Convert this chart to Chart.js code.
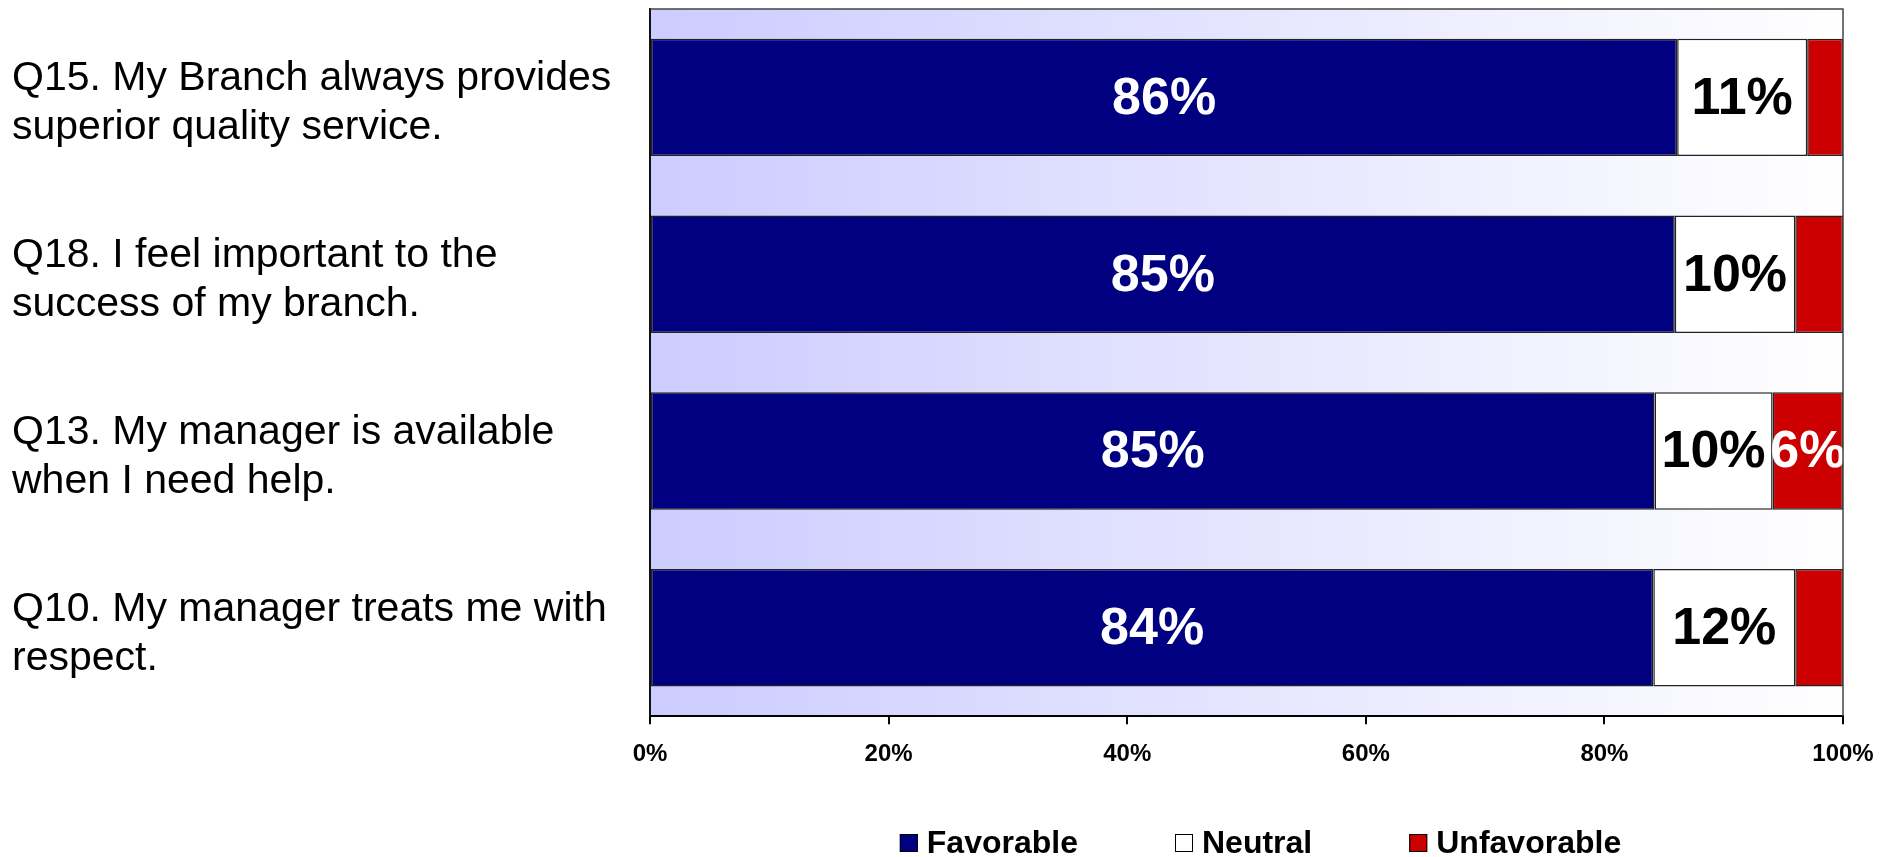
<!DOCTYPE html>
<html>
<head>
<meta charset="utf-8">
<script src="https://cdn.jsdelivr.net/npm/chart.js@4.4.0/dist/chart.umd.min.js"></script>
<style>
  body { margin: 0; background: #fff; }
  #wrap { width: 1893px; height: 857px; }
</style>
</head>
<body>
<div id="wrap"><canvas id="surveyChart" width="1893" height="857"></canvas></div>
<script>
// ==========================================
// DATA
// ==========================================
const questions = [
    ['Q15. My Branch always provides', 'superior quality service.'],
    ['Q18. I feel important to the', 'success of my branch.'],
    ['Q13. My manager is available', 'when I need help.'],
    ['Q10. My manager treats me with', 'respect.']
];
const seriesNames = ['Favorable', 'Neutral', 'Unfavorable'];

// bar lengths (percent of respondents)
const favorable   = [86.1, 85.9, 84.2, 84.1];
const neutral     = [10.9, 10.1,  9.9, 11.9];
const unfavorable = [ 3.0,  4.0,  5.9,  4.0];

// the percentages printed on the bars (null = no label shown)
const favorableShown   = [86, 85, 85, 84];
const neutralShown     = [11, 10, 10, 12];
const unfavorableShown = [null, null, 6, null];

const xTicks = [0, 20, 40, 60, 80, 100];

// ==========================================
// STYLE
// ==========================================
const FONT = '"Liberation Sans", Arial, Helvetica, sans-serif';
const NAVY = '#000080';
const RED = '#CC0000';
const EDGE = '#222222';

// plot area gradient + border
const plotBackground = {
    id: 'plotBackground',
    beforeDraw(chart) {
        const { ctx, chartArea: a } = chart;
        const g = ctx.createLinearGradient(a.left, 0, a.right, 0);
        g.addColorStop(0, '#CCCCFF');
        g.addColorStop(1, '#FFFFFF');
        ctx.save();
        ctx.fillStyle = g;
        ctx.fillRect(a.left, a.top, a.right - a.left, a.bottom - a.top);
        ctx.restore();
    },
    afterDraw(chart) {
        const { ctx, chartArea: a } = chart;
        ctx.save();
        ctx.strokeStyle = '#444';
        ctx.lineWidth = 1.5;
        ctx.beginPath();
        ctx.moveTo(a.left, a.top);
        ctx.lineTo(a.right, a.top);
        ctx.lineTo(a.right, a.bottom);
        ctx.stroke();
        ctx.restore();
    }
};

// percent labels inside the bars
const barLabels = {
    id: 'barLabels',
    afterDatasetsDraw(chart) {
        const { ctx } = chart;
        const shown = [favorableShown, neutralShown, unfavorableShown];
        ctx.save();
        ctx.font = 'bold 52px ' + FONT;
        ctx.textAlign = 'center';
        ctx.textBaseline = 'middle';
        chart.data.datasets.forEach((ds, di) => {
            chart.getDatasetMeta(di).data.forEach((bar, i) => {
                const v = shown[di][i];
                if (v === null) return;
                const cx = (bar.x + bar.base) / 2;
                ctx.fillStyle = di === 1 ? '#000' : '#fff';
                ctx.fillText(v + '%', cx, bar.y + 2);
            });
        });
        ctx.restore();
    }
};

// legend centred under the plot
const bottomLegend = {
    id: 'bottomLegend',
    afterDraw(chart) {
        const { ctx, chartArea: a } = chart;
        const box = 18, gap = 9, spacing = 97, y = 843;
        ctx.save();
        ctx.font = 'bold 32px ' + FONT;
        ctx.textBaseline = 'middle';
        const items = chart.data.datasets.map(ds => ({
            text: ds.label, color: ds.backgroundColor, w: box + gap + ctx.measureText(ds.label).width
        }));
        const total = items.reduce((s, it) => s + it.w, 0) + spacing * (items.length - 1);
        let x = (a.left + a.right) / 2 + 14 - total / 2;
        items.forEach(it => {
            ctx.fillStyle = it.color;
            ctx.fillRect(x, y - box / 2, box, box);
            ctx.strokeStyle = '#000';
            ctx.lineWidth = 1;
            ctx.strokeRect(x + 0.5, y - box / 2 + 0.5, box - 1, box - 1);
            ctx.fillStyle = '#000';
            ctx.fillText(it.text, x + box + gap, y + 1);
            x += it.w + spacing;
        });
        ctx.restore();
    }
};

// ==========================================
// CHART
// ==========================================
const barStyle = { borderColor: EDGE, borderWidth: 1.5, borderSkipped: false,
                   barPercentage: 0.664, categoryPercentage: 1.0 };

new Chart(document.getElementById('surveyChart').getContext('2d'), {
    type: 'bar',
    data: {
        labels: questions,
        datasets: [
            { label: seriesNames[0], data: favorable,   backgroundColor: NAVY,   ...barStyle },
            { label: seriesNames[1], data: neutral,     backgroundColor: '#FFFFFF', ...barStyle },
            { label: seriesNames[2], data: unfavorable, backgroundColor: RED,    ...barStyle }
        ]
    },
    options: {
        indexAxis: 'y',
        responsive: false,
        animation: false,
        layout: { padding: { top: 9, left: 12, right: 50, bottom: 72 } },
        plugins: { legend: { display: false }, tooltip: { enabled: false } },
        scales: {
            x: {
                stacked: true, min: 0, max: 100,
                afterBuildTicks: scale => { scale.ticks = xTicks.map(v => ({ value: v })); },
                ticks: { callback: v => v + '%', color: '#000', padding: 16,
                         font: { family: FONT, size: 24, weight: 'bold' }, maxRotation: 0 },
                grid: { drawOnChartArea: false, drawTicks: true, tickLength: 8, color: '#000', lineWidth: 2 },
                border: { display: true, color: '#000', width: 2 }
            },
            y: {
                stacked: true,
                afterFit: scale => { scale.width = 638; scale.paddingTop = 0; scale.paddingBottom = 0; },
                ticks: { color: '#000', crossAlign: 'far', padding: 10, labelOffset: 6,
                         font: { family: FONT, size: 41, lineHeight: 1.2 } },
                grid: { display: false },
                border: { display: true, color: '#111', width: 2 }
            }
        }
    },
    plugins: [plotBackground, barLabels, bottomLegend]
});
</script>
</body>
</html>
